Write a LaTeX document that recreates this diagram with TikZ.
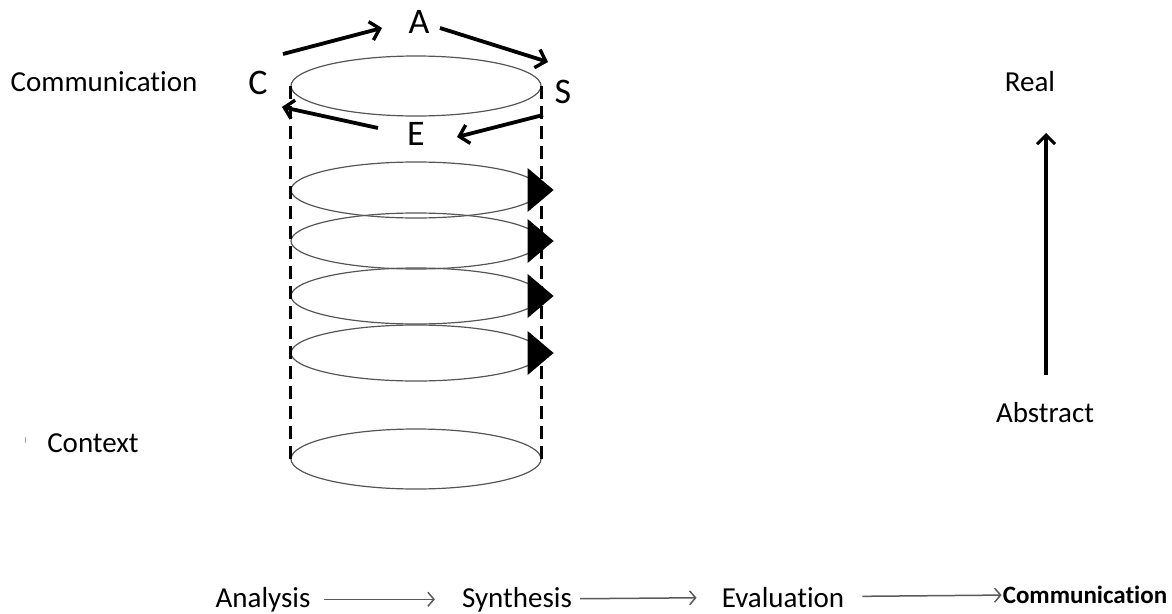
\documentclass[tikz,border=0pt]{standalone}
\usepackage{fontspec}
\setmainfont{Carlito}[Ligatures=NoCommon]
\usetikzlibrary{positioning, arrows.meta, shapes.geometric}
\definecolor{ringgray}{HTML}{555555}
\definecolor{flowgray}{HTML}{5A5A5A}

\begin{document}
\begin{tikzpicture}[x=1pt, y=-1pt,
    label/.style={font=\fontsize{29}{32}\selectfont, inner sep=0pt},
    letter/.style={font=\fontsize{36}{40}\selectfont, inner sep=0pt},
    ring/.style={draw=ringgray, ellipse, line width=1.2pt,
                 minimum width=250pt, minimum height=60pt, inner sep=0pt},
    cycle/.style={line width=3.8pt, -{Straight Barb[length=9pt, width=19pt, line width=3.4pt]}},
    flow/.style={draw=flowgray, line width=1.5pt, -{Straight Barb[length=6pt, width=14pt, line width=1.5pt]}},
    wall/.style={line width=3.2pt, dash pattern=on 13pt off 7pt}]
  \useasboundingbox (0,0) rectangle (1172,613);

  % cylinder
  \node[ring] (top) at (416,86) {};
  \foreach \y/\n in {190/1, 241/2, 296/3, 353/4}
    \node[ring, minimum height=56pt] (ring\n) at (416,\y) {};
  \node[ring] (base) at (416,459) {};
  \draw[wall] (top.west) -- (base.west);
  \draw[wall] (top.east) -- (base.east);
  \foreach \n in {1,...,4}
    \fill[shift={(ring\n.east)}] (-14,-22) -- (12,0) -- (-14,22) -- cycle;

  % cycle letters
  \node[letter] (C) at (258,83) {C};
  \node[letter] (A) at (419,22) {A};
  \node[letter] (S) at (563,92) {S};
  \node[letter] (E) at (416,134) {E};
  \draw[cycle] ([shift={(25,-29)}]C.center) -- ([shift={(-37,6)}]A.center);
  \draw[cycle] ([shift={(21,6)}]A.center) -- ([shift={(-15,-30)}]S.center);
  \draw[cycle] ([shift={(-20,23)}]S.center) -- ([shift={(41,3)}]E.center);
  \draw[cycle] ([shift={(-38,-6)}]E.center) -- ([shift={(24,24)}]C.center);

  % side labels
  \node[label] (comm) at (104,82) {Communication};
  \node[label] (context) at (93,443) {Context};
  \draw[gray!70, line width=1pt] (25,437) -- (25,443);

  \node[label] (real) at (1030,82) {Real};
  \node[label] (abstract) at (1045,413) {Abstract};
  \draw[line width=3.4pt, -{Straight Barb[length=9pt, width=18pt, line width=3pt]}]
    ([shift={(1,-38)}]abstract.center) -- ([shift={(1,-280)}]abstract.center);

  % process row
  \node[label, anchor=base] (analysis) at (263,607) {Analysis};
  \node[label, anchor=base] (synthesis) at (517,607) {Synthesis};
  \node[label, anchor=base] (evaluation) at (783,607) {Evaluation};
  \node[inner sep=0pt, anchor=base, font=\fontsize{25}{28}\selectfont\bfseries] (commend) at (1085,603) {Communication};
  \draw[flow, shorten <=13pt, shorten >=27pt] (analysis) -- (synthesis);
  \draw[flow, shorten <=8pt, shorten >=25pt] (synthesis) -- (evaluation);
  \draw[flow, shorten <=18pt, shorten >=1pt] (evaluation) -- (commend);
\end{tikzpicture}
\end{document}
